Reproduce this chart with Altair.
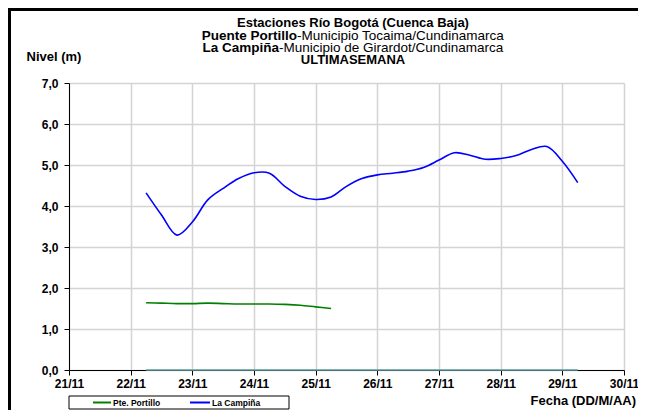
import altair as alt
import pandas as pd

# ---- data ----
campina_fecha = [
    "2010-11-22T06:00:00Z", "2010-11-22T12:00:00Z", "2010-11-22T18:00:00Z",
    "2010-11-23T00:00:00Z", "2010-11-23T06:00:00Z", "2010-11-23T12:00:00Z", "2010-11-23T18:00:00Z",
    "2010-11-24T00:00:00Z", "2010-11-24T06:00:00Z", "2010-11-24T12:00:00Z", "2010-11-24T18:00:00Z",
    "2010-11-25T00:00:00Z", "2010-11-25T06:00:00Z", "2010-11-25T12:00:00Z", "2010-11-25T18:00:00Z",
    "2010-11-26T00:00:00Z", "2010-11-26T06:00:00Z", "2010-11-26T12:00:00Z", "2010-11-26T18:00:00Z",
    "2010-11-27T00:00:00Z", "2010-11-27T06:00:00Z", "2010-11-27T12:00:00Z", "2010-11-27T18:00:00Z",
    "2010-11-28T00:00:00Z", "2010-11-28T06:00:00Z", "2010-11-28T12:00:00Z", "2010-11-28T18:00:00Z",
    "2010-11-29T00:00:00Z", "2010-11-29T06:00:00Z",
]
campina_nivel = [
    4.32, 3.78, 3.29,
    3.61, 4.15, 4.43, 4.67,
    4.81, 4.80, 4.48, 4.24,
    4.16, 4.22, 4.48, 4.67,
    4.76, 4.80, 4.85, 4.94,
    5.12, 5.30, 5.24, 5.14,
    5.16, 5.23, 5.38, 5.45,
    5.09, 4.57,
]
portillo_fecha = [
    "2010-11-22T06:00:00Z", "2010-11-22T12:00:00Z", "2010-11-22T18:00:00Z",
    "2010-11-23T00:00:00Z", "2010-11-23T06:00:00Z", "2010-11-23T12:00:00Z", "2010-11-23T18:00:00Z",
    "2010-11-24T00:00:00Z", "2010-11-24T06:00:00Z", "2010-11-24T12:00:00Z", "2010-11-24T18:00:00Z",
    "2010-11-25T00:00:00Z", "2010-11-25T06:00:00Z",
]
portillo_nivel = [
    1.64, 1.63, 1.62,
    1.62, 1.63, 1.62, 1.61,
    1.61, 1.61, 1.60, 1.58,
    1.54, 1.50,
]
cero_fecha = ["2010-11-22T06:00:00Z", "2010-11-29T06:00:00Z"]
cero_nivel = [0.0, 0.0]

series = ["Pte. Portillo", "La Campiña", "Serie 3"]
colores = ["#008000", "#0000FF", "#5F9EA0"]
dias = [21, 22, 23, 24, 25, 26, 27, 28, 29, 30]
niveles_eje = [0, 1, 2, 3, 4, 5, 6, 7]

df = pd.concat([
    pd.DataFrame({"fecha": portillo_fecha, "nivel": portillo_nivel, "serie": series[0]}),
    pd.DataFrame({"fecha": campina_fecha, "nivel": campina_nivel, "serie": series[1]}),
    pd.DataFrame({"fecha": cero_fecha, "nivel": cero_nivel, "serie": series[2]}),
], ignore_index=True)

FONT = "Liberation Sans"
W, H = 555, 287
PAD_R = 14

x_enc = alt.X(
    "fecha:T",
    scale=alt.Scale(type="utc",
                    domain=[alt.DateTime(year=2010, month=11, date=21, utc=True),
                            alt.DateTime(year=2010, month=11, date=30, utc=True)]),
    axis=alt.Axis(values=[alt.DateTime(year=2010, month=11, date=d, utc=True) for d in dias],
                  format="%d/%m", title=None, labelFlush=False, labelOverlap=False,
                  labelPadding=3),
)
y_enc = alt.Y(
    "nivel:Q",
    scale=alt.Scale(domain=[0, 7], nice=False),
    axis=alt.Axis(values=niveles_eje, title=None,
                  labelExpr="replace(format(datum.value, '.1f'), '.', ',')",
                  labelPadding=6),
)

lines = alt.Chart(df).mark_line(interpolate="catmull-rom", strokeWidth=1.6).encode(
    x=x_enc,
    y=y_enc,
    color=alt.Color("serie:N", scale=alt.Scale(domain=series, range=colores), legend=None),
    detail="serie:N",
)

one = pd.DataFrame({"k": [0]})
base = alt.Chart(one)


def txt(s, x, y, size=13, weight="bold", align="center"):
    return base.mark_text(text=s, font=FONT, fontSize=size, fontWeight=weight,
                          align=align, baseline="middle", color="black").encode(
        x=alt.value(x), y=alt.value(y))


cx = 284
annotations = [
    txt("Estaciones Río Bogotá (Cuenca Baja)", cx, -60),
    txt("Puente Portillo", 228, -47.5, size=13.5, align="right"),
    txt(" -Municipio Tocaima/Cundinamarca", 228, -47.5, size=13.5, weight="normal", align="left"),
    txt("La Campiña", 210, -35, size=13.5, align="right"),
    txt(" -Municipio de Girardot/Cundinamarca", 210, -35, size=13.5, weight="normal", align="left"),
    txt("ULTIMASEMANA", cx, -23),
    txt("Nivel (m)", -15, -26),
    txt("Fecha (DD/M/AA)", 567, 318, align="right"),
    txt("Pte. Portillo", 44, 319.5, size=8.5, align="left"),
    txt("La Campiña", 143, 319.5, size=8.5, align="left"),
]

legend_box = base.mark_rect(fill="white", stroke="black", strokeWidth=1).encode(
    x=alt.value(0), x2=alt.value(220), y=alt.value(313), y2=alt.value(326))
leg_g = base.mark_rule(color=colores[0], strokeWidth=2).encode(
    x=alt.value(24), x2=alt.value(42), y=alt.value(319.5))
leg_b = base.mark_rule(color=colores[1], strokeWidth=2).encode(
    x=alt.value(121), x2=alt.value(141), y=alt.value(319.5))

frame_left = base.mark_rule(color="black", strokeWidth=3).encode(
    x=alt.value(-59.5), y=alt.value(-74), y2=alt.value(340))
frame_top = base.mark_rule(color="black", strokeWidth=3).encode(
    x=alt.value(-61), x2=alt.value(W + PAD_R), y=alt.value(-73.5))

chart = alt.layer(
    lines, legend_box, leg_g, leg_b, frame_left, frame_top, *annotations
).properties(
    width=W, height=H,
    autosize=alt.AutoSizeParams(type="none"),
    padding={"left": 61, "top": 75, "right": PAD_R, "bottom": 40},
).configure_view(strokeWidth=0).configure_axis(
    labelFont=FONT, labelFontSize=12, labelFontWeight="bold", labelColor="black",
    domainColor="black", domainWidth=1, tickColor="black", tickSize=5, tickWidth=1,
    gridColor="#d4d4d4", gridWidth=1.5,
)

chart.save("out.html", embed_options={"renderer": "svg", "actions": False})
